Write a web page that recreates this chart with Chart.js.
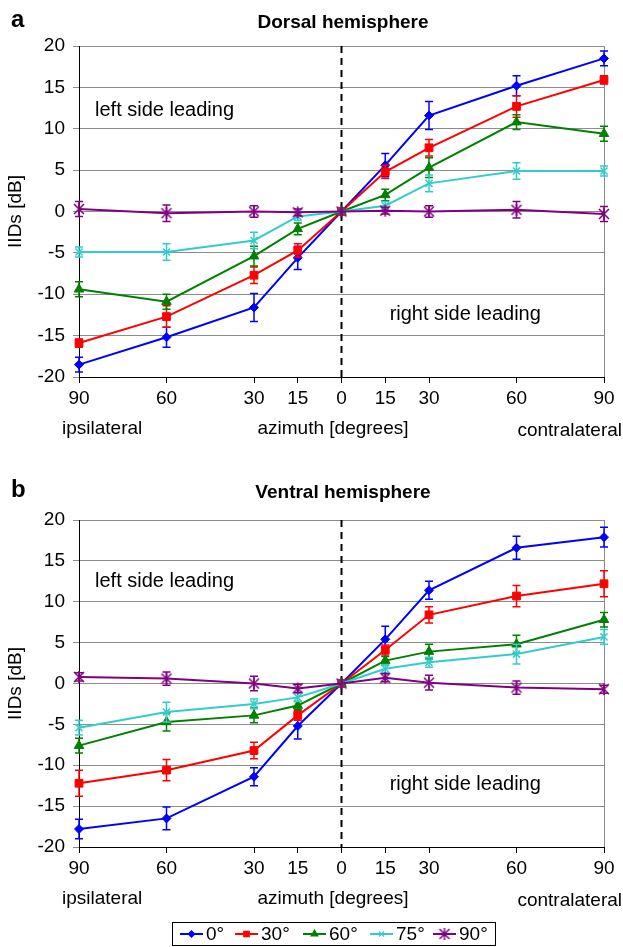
<!DOCTYPE html>
<html>
<head>
<meta charset="utf-8">
<script src="https://cdn.jsdelivr.net/npm/chart.js@4.4.1/dist/chart.umd.min.js"></script>
<style>
  body { margin: 0; background: #fff; }
  .panel { position: absolute; left: 0; width: 623px; }
</style>
</head>
<body>
<div class="panel" style="top:0;height:470px"><canvas id="dorsal"></canvas></div>
<div class="panel" style="top:470px;height:477px"><canvas id="ventral"></canvas></div>
<script>
// azimuth positions (negative = ipsilateral side) and their printed labels
const azimuth = [-90, -60, -30, -15, 0, 15, 30, 60, 90];
const azimuthLabels = ['90', '60', '30', '15', '0', '15', '30', '60', '90'];
const elevations = ['0°', '30°', '60°', '75°', '90°'];

// a: dorsal hemisphere, IIDs [dB] and error bar half-lengths
const dorsal0 = [-18.5, -15.2, -11.6, -5.6, 0, 5.6, 11.6, 15.2, 18.5];
const dorsal0Err = [0.9, 1.2, 1.7, 1.4, 0, 1.4, 1.7, 1.2, 0.9];
const dorsal30 = [-15.9, -12.7, -7.7, -4.7, 0, 4.8, 7.7, 12.7, 15.9];
const dorsal30Err = [0.5, 1.3, 1.0, 0.8, 0, 0.8, 1.0, 1.3, 0.5];
const dorsal60 = [-9.4, -10.9, -5.4, -2.1, 0, 2.0, 5.3, 10.8, 9.4];
const dorsal60Err = [0.9, 0.9, 1.2, 0.7, 0, 0.7, 1.2, 0.9, 0.9];
const dorsal75 = [-4.9, -4.9, -3.5, -0.6, 0, 0.7, 3.4, 4.9, 4.9];
const dorsal75Err = [0.6, 1.0, 1.0, 0.5, 0, 0.5, 1.0, 1.0, 0.6];
const dorsal90 = [0.3, -0.2, 0.0, -0.1, 0, 0.1, 0.0, 0.2, -0.3];
const dorsal90Err = [0.9, 1.0, 0.7, 0.4, 0, 0.4, 0.7, 1.0, 0.9];

// b: ventral hemisphere
const ventral0 = [-17.8, -16.5, -11.4, -5.2, 0, 5.4, 11.4, 16.6, 17.9];
const ventral0Err = [1.2, 1.4, 1.1, 1.6, 0, 1.6, 1.1, 1.4, 1.2];
const ventral30 = [-12.2, -10.6, -8.2, -3.9, 0, 4.1, 8.4, 10.7, 12.2];
const ventral30Err = [1.6, 1.3, 1.0, 0.6, 0, 0.6, 1.0, 1.3, 1.6];
const ventral60 = [-7.6, -4.7, -3.9, -2.7, 0, 2.8, 3.9, 4.8, 7.8];
const ventral60Err = [0.9, 1.1, 0.9, 0.5, 0, 0.5, 0.9, 1.1, 0.9];
const ventral75 = [-5.4, -3.5, -2.5, -1.7, 0, 1.8, 2.6, 3.6, 5.7];
const ventral75Err = [0.9, 1.2, 0.6, 0.5, 0, 0.5, 0.6, 1.2, 0.9];
const ventral90 = [0.8, 0.6, 0.0, -0.6, 0, 0.7, 0.1, -0.5, -0.7];
const ventral90Err = [0.5, 0.8, 0.9, 0.5, 0, 0.5, 0.9, 0.8, 0.5];

const FONT = '"Liberation Sans", Arial, Helvetica, sans-serif';

function asterisk(color, r) {
  const c = document.createElement('canvas');
  const s = 2 * r + 4;
  c.width = c.height = s;
  const g = c.getContext('2d');
  const m = s / 2;
  g.strokeStyle = color;
  g.lineWidth = 1.5;
  g.beginPath();
  g.moveTo(m - r, m - r); g.lineTo(m + r, m + r);
  g.moveTo(m + r, m - r); g.lineTo(m - r, m + r);
  g.moveTo(m, m - r - 1); g.lineTo(m, m + r + 1);
  g.stroke();
  return c;
}

const styles = [
  { color: '#0000ff', pointStyle: 'rectRot', radius: 4.5 },
  { color: '#ff0000', pointStyle: 'rect', radius: 5.5 },
  { color: '#008000', pointStyle: 'triangle', radius: 5.5 },
  { color: '#33cccc', pointStyle: 'crossRot', radius: 5 },
  { color: '#800080', pointStyle: asterisk('#800080', 5), radius: 5 }
];

function makeDatasets(series, errors) {
  return series.map((vals, k) => ({
    label: elevations[k],
    data: azimuth.map((x, i) => ({ x: x, y: vals[i] })),
    errors: errors[k],
    borderColor: styles[k].color,
    backgroundColor: styles[k].color,
    pointBackgroundColor: styles[k].color,
    pointBorderColor: styles[k].color,
    pointStyle: styles[k].pointStyle,
    pointRadius: styles[k].radius,
    pointBorderWidth: k >= 3 ? 1.5 : 1,
    borderWidth: 2,
    tension: 0,
    clip: false,
    order: 5 - k
  }));
}

const errorBars = {
  id: 'errorBars',
  afterDatasetDraw(chart, args) {
    const ds = chart.data.datasets[args.index];
    if (!ds.errors) return;
    const ctx = chart.ctx;
    const ys = chart.scales.y;
    ctx.save();
    ctx.strokeStyle = ds.borderColor;
    ctx.lineWidth = 1.5;
    args.meta.data.forEach((pt, i) => {
      const e = ds.errors[i];
      if (!e) return;
      const v = ds.data[i].y;
      const top = ys.getPixelForValue(v + e);
      const bot = ys.getPixelForValue(v - e);
      ctx.beginPath();
      ctx.moveTo(pt.x, top); ctx.lineTo(pt.x, bot);
      ctx.moveTo(pt.x - 4, top); ctx.lineTo(pt.x + 4, top);
      ctx.moveTo(pt.x - 4, bot); ctx.lineTo(pt.x + 4, bot);
      ctx.stroke();
    });
    ctx.restore();
  }
};

const deco = {
  id: 'deco',
  beforeDatasetsDraw(chart) {
    const { ctx, chartArea: a, scales: { x } } = chart;
    ctx.save();
    ctx.strokeStyle = '#8c8c8c';
    ctx.lineWidth = 1;
    ctx.beginPath();
    ctx.moveTo(Math.round(a.right) + 0.5, a.top);
    ctx.lineTo(Math.round(a.right) + 0.5, a.bottom);
    ctx.stroke();
    const x0 = x.getPixelForValue(0);
    ctx.strokeStyle = '#000';
    ctx.lineWidth = 2;
    ctx.setLineDash([7, 5]);
    ctx.beginPath();
    ctx.moveTo(x0, a.top);
    ctx.lineTo(x0, a.bottom);
    ctx.stroke();
    ctx.restore();
  },
  afterDraw(chart, args, o) {
    const { ctx, chartArea: a, scales: { x, y } } = chart;
    ctx.save();
    ctx.fillStyle = '#000';
    ctx.textBaseline = 'alphabetic';
    ctx.font = 'bold 24px ' + FONT;
    ctx.textAlign = 'left';
    ctx.fillText(o.letter, 11, 27);
    ctx.font = 'bold 19px ' + FONT;
    ctx.textAlign = 'center';
    ctx.fillText(o.title, 343, 28);

    ctx.font = '20px ' + FONT;
    ctx.textAlign = 'left';
    ctx.textBaseline = 'middle';
    o.notes.forEach(n => ctx.fillText(n.text, x.getPixelForValue(n.x), y.getPixelForValue(n.y)));

    ctx.textBaseline = 'alphabetic';
    ctx.font = '19px ' + FONT;
    ctx.fillText('ipsilateral', 62, a.bottom + 57);
    ctx.textAlign = 'center';
    ctx.fillText('azimuth [degrees]', 333, a.bottom + 57);
    ctx.textAlign = 'right';
    ctx.fillText('contralateral', 622, a.bottom + 59);

    if (o.legend) {
      const top = 452.5, h = 23, cy = top + h / 2;
      ctx.strokeStyle = '#000';
      ctx.lineWidth = 1;
      ctx.strokeRect(172.5, top, 323, h);
      const startX = [180, 235, 303, 370, 433];
      ctx.textAlign = 'left';
      ctx.textBaseline = 'middle';
      chart.data.datasets.forEach((ds, k) => {
        const x1 = startX[k];
        ctx.strokeStyle = ds.borderColor;
        ctx.fillStyle = ds.borderColor;
        ctx.lineWidth = 2;
        ctx.beginPath(); ctx.moveTo(x1, cy); ctx.lineTo(x1 + 23, cy); ctx.stroke();
        ctx.lineWidth = 1.2;
        Chart.helpers.drawPoint(ctx, {
          pointStyle: ds.pointStyle, radius: ds.pointRadius * 0.7, rotation: 0, borderWidth: 1.2
        }, x1 + 11.5, cy);
        ctx.fillStyle = '#000';
        ctx.fillText(ds.label, x1 + 26, cy + 1);
      });
    }
    ctx.restore();
  }
};

function makeChart(id, datasets, opts) {
  return new Chart(document.getElementById(id).getContext('2d'), {
    type: 'line',
    data: { datasets: datasets },
    plugins: [errorBars, deco],
    options: {
      responsive: true,
      maintainAspectRatio: false,
      animation: false,
      events: [],
      layout: { padding: { top: opts.top, right: 19, left: 0, bottom: 0 } },
      plugins: {
        legend: { display: false },
        tooltip: { enabled: false },
        deco: opts.deco
      },
      scales: {
        x: {
          type: 'linear',
          min: -90,
          max: 90,
          afterBuildTicks: s => { s.ticks = azimuth.map(v => ({ value: v })); },
          afterFit: s => { s.height = opts.bottom; },
          ticks: {
            color: '#000',
            font: { size: 19, family: FONT },
            padding: 4,
            maxRotation: 0,
            autoSkip: false,
            callback: (v, i) => azimuthLabels[i]
          },
          grid: { drawOnChartArea: false, drawTicks: true, tickLength: 6, color: '#000' },
          border: { color: '#000', width: 1 }
        },
        y: {
          min: -20,
          max: 20,
          afterFit: s => { s.width = 79; },
          ticks: {
            stepSize: 5,
            color: '#000',
            font: { size: 19, family: FONT },
            padding: 8
          },
          grid: { color: '#8c8c8c', lineWidth: 1, tickLength: 6 },
          border: { color: '#000', width: 1 },
          title: {
            display: true,
            text: 'IIDs [dB]',
            color: '#000',
            font: { size: 19, family: FONT },
            padding: { top: 4, bottom: 0 }
          }
        }
      }
    }
  });
}

makeChart('dorsal',
  makeDatasets([dorsal0, dorsal30, dorsal60, dorsal75, dorsal90],
               [dorsal0Err, dorsal30Err, dorsal60Err, dorsal75Err, dorsal90Err]),
  {
    top: 46, bottom: 93,
    deco: {
      letter: 'a', title: 'Dorsal hemisphere', legend: false,
      notes: [{ text: 'left side leading', x: -84.5, y: 12.2 },
              { text: 'right side leading', x: 16.5, y: -12.4 }]
    }
  });

makeChart('ventral',
  makeDatasets([ventral0, ventral30, ventral60, ventral75, ventral90],
               [ventral0Err, ventral30Err, ventral60Err, ventral75Err, ventral90Err]),
  {
    top: 50, bottom: 100,
    deco: {
      letter: 'b', title: 'Ventral hemisphere', legend: true,
      notes: [{ text: 'left side leading', x: -84.5, y: 12.5 },
              { text: 'right side leading', x: 16.5, y: -12.4 }]
    }
  });
</script>
</body>
</html>
